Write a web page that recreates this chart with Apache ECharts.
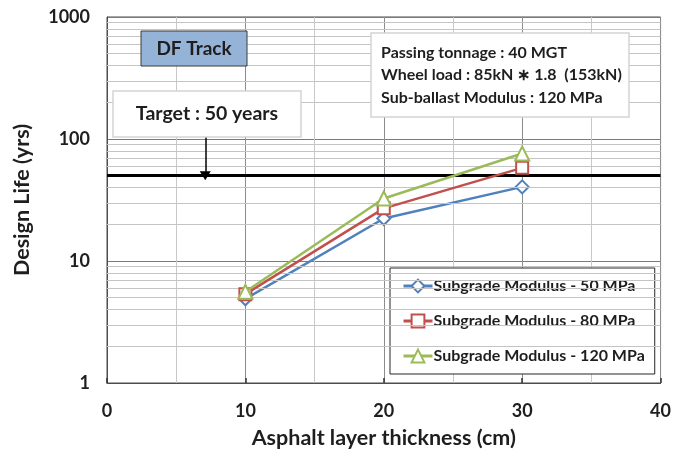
<!DOCTYPE html>
<html>
<head>
<meta charset="utf-8">
<script src="https://cdn.jsdelivr.net/npm/echarts@6/dist/echarts.min.js"></script>
<style>
html,body{margin:0;padding:0;background:#fff;}
#c{width:674px;height:454px;}
</style>
</head>
<body>
<div id="c"></div>
<script>
// ---- data ----
const thickness = [10, 20, 30];
const series50 = [4.9, 22.3, 40.5];
const series80 = [5.35, 27, 58];
const series120 = [5.6, 32.5, 76];
const seriesNames = ['Subgrade Modulus - 50 MPa', 'Subgrade Modulus - 80 MPa', 'Subgrade Modulus - 120 MPa'];
const targetLife = 50;
const xTicks = [0, 10, 20, 30, 40];
const yTicks = [1, 10, 100, 1000];
const minorY = [2,3,4,5,6,7,8,9,20,30,40,50,60,70,80,90,200,300,400,500,600,700,800,900];
const infoLines = ['Passing tonnage : 40 MGT', 'Wheel load : 85kN \u2217 1.8  (153kN)', 'Sub-ballast Modulus : 120 MPa'];

const FONT = 'Lato';
const TXT = '#1e1e1e';

function pairs(ys){ return thickness.map((x,i)=>[x, ys[i]]); }

const chart = echarts.init(document.getElementById('c'), null, {renderer:'canvas'});
chart.setOption({
  animation: false,
  backgroundColor: '#fff',
  grid: { left: 107, top: 17, right: 11, bottom: 69.5, show: true, borderColor: '#4d4d4d', borderWidth: 1, backgroundColor: 'transparent' },
  xAxis: {
    type: 'value', min: xTicks[0], max: xTicks[xTicks.length-1], interval: 10,
    name: 'Asphalt layer thickness (cm)', nameLocation: 'middle', nameGap: 44,
    nameTextStyle: { fontFamily: FONT, fontWeight: 'bold', fontSize: 21.5, color: TXT },
    axisLine: { show: true, lineStyle: { color: '#4d4d4d', width: 1 } },
    axisTick: { show: true, inside: true, length: 5, lineStyle: { color: '#333', width: 1.5 } },
    axisLabel: { margin: 19, fontFamily: FONT, fontWeight: 'bold', fontSize: 18, color: TXT },
    splitLine: { show: true, lineStyle: { color: '#8c8c8c', width: 1 } },
    minorTick: { show: false, splitNumber: 2 },
    minorSplitLine: { show: true, lineStyle: { color: '#c8c8c8', width: 1 } }
  },
  yAxis: {
    type: 'log', logBase: 10, min: yTicks[0], max: yTicks[yTicks.length-1],
    name: 'Design Life (yrs)', nameLocation: 'middle', nameGap: 74,
    nameTextStyle: { fontFamily: FONT, fontWeight: 'bold', fontSize: 21.5, color: TXT },
    axisLine: { show: true, lineStyle: { color: '#4d4d4d', width: 1 } },
    axisTick: { show: false },
    axisLabel: { margin: 17, fontFamily: FONT, fontWeight: 'bold', fontSize: 18, color: TXT, formatter: v => String(v) },
    splitLine: { show: true, lineStyle: { color: '#7a7a7a', width: 1 } }
  },
  legend: {
    orient: 'vertical', left: 390, top: 268,
    padding: [10, 10, 10, 12], itemGap: 19,
    itemWidth: 29, itemHeight: 16,
    backgroundColor: '#fff', borderColor: '#262626', borderWidth: 1,
    lineStyle: { width: 3 },
    itemStyle: { borderWidth: 2.5 },
    textStyle: { fontFamily: FONT, fontWeight: 'bold', fontSize: 16, color: TXT, padding: [0,0,0,-4] },
    data: seriesNames
  },
  series: [
    {
      type: 'line', name: '_minor', data: [], z: 1, silent: true,
      markLine: {
        silent: true, symbol: ['none','none'], label: { show: false },
        lineStyle: { color: '#c4c4c4', width: 1, type: 'solid' },
        data: minorY.map(v => ({ yAxis: v }))
      }
    },
    {
      type: 'line', name: seriesNames[0], data: pairs(series50), z: 4,
      symbol: 'emptyDiamond', symbolSize: 13,
      lineStyle: { color: '#4F81BD', width: 2.5 },
      itemStyle: { color: '#4F81BD', borderWidth: 2.5 }
    },
    {
      type: 'line', name: seriesNames[1], data: pairs(series80), z: 5,
      symbol: 'emptyRect', symbolSize: 12,
      lineStyle: { color: '#C0504D', width: 2.5 },
      itemStyle: { color: '#C0504D', borderWidth: 2.5 }
    },
    {
      type: 'line', name: seriesNames[2], data: pairs(series120), z: 6,
      symbol: 'emptyTriangle', symbolSize: 14,
      lineStyle: { color: '#9BBB59', width: 2.5 },
      itemStyle: { color: '#9BBB59', borderWidth: 2.5 }
    },
    {
      type: 'line', name: '_target', data: [], z: 3, silent: true,
      markLine: {
        silent: true, label: { show: false }, symbol: ['none', 'none'],
        lineStyle: { color: '#000', width: 3, type: 'solid' },
        data: [ { yAxis: targetLife } ]
      }
    },
    {
      type: 'line', name: '_arrow', data: [], z: 3, silent: true,
      markLine: {
        silent: true, label: { show: false }, symbol: ['none', 'triangle'], symbolSize: [11, 9],
        lineStyle: { color: '#000', width: 1.5, type: 'solid' },
        data: [ [ { coord: [7.1, 105] }, { coord: [7.1, targetLife] } ] ]
      }
    }
  ],
  graphic: [
    { type: 'rect', shape: { x: 141, y: 31, width: 106, height: 35 }, style: { fill: '#95B3D7', stroke: '#3a3a3a', lineWidth: 1 }, z: 10 },
    { type: 'text', x: 194, y: 48.5, style: { text: 'DF Track', font: 'bold 19px ' + FONT, fill: TXT, align: 'center', verticalAlign: 'middle' }, z: 11 },
    { type: 'rect', shape: { x: 113, y: 91, width: 188, height: 46 }, style: { fill: '#fff', stroke: '#d4d4d4', lineWidth: 1.5 }, z: 10 },
    { type: 'text', x: 207, y: 114, style: { text: 'Target : 50 years', font: 'bold 19.5px ' + FONT, fill: TXT, align: 'center', verticalAlign: 'middle' }, z: 11 },
    { type: 'rect', shape: { x: 371, y: 33, width: 258, height: 84 }, style: { fill: '#fff', stroke: '#d4d4d4', lineWidth: 1.5 }, z: 10 },
    { type: 'text', x: 381, y: 53, style: { text: infoLines[0], font: 'bold 16px ' + FONT, fill: TXT, align: 'left', verticalAlign: 'middle' }, z: 11 },
    { type: 'text', x: 381, y: 75, style: { text: infoLines[1], font: 'bold 16px ' + FONT, fill: TXT, align: 'left', verticalAlign: 'middle' }, z: 11 },
    { type: 'text', x: 381, y: 98, style: { text: infoLines[2], font: 'bold 16px ' + FONT, fill: TXT, align: 'left', verticalAlign: 'middle' }, z: 11 }
  ]
});
</script>
</body>
</html>
